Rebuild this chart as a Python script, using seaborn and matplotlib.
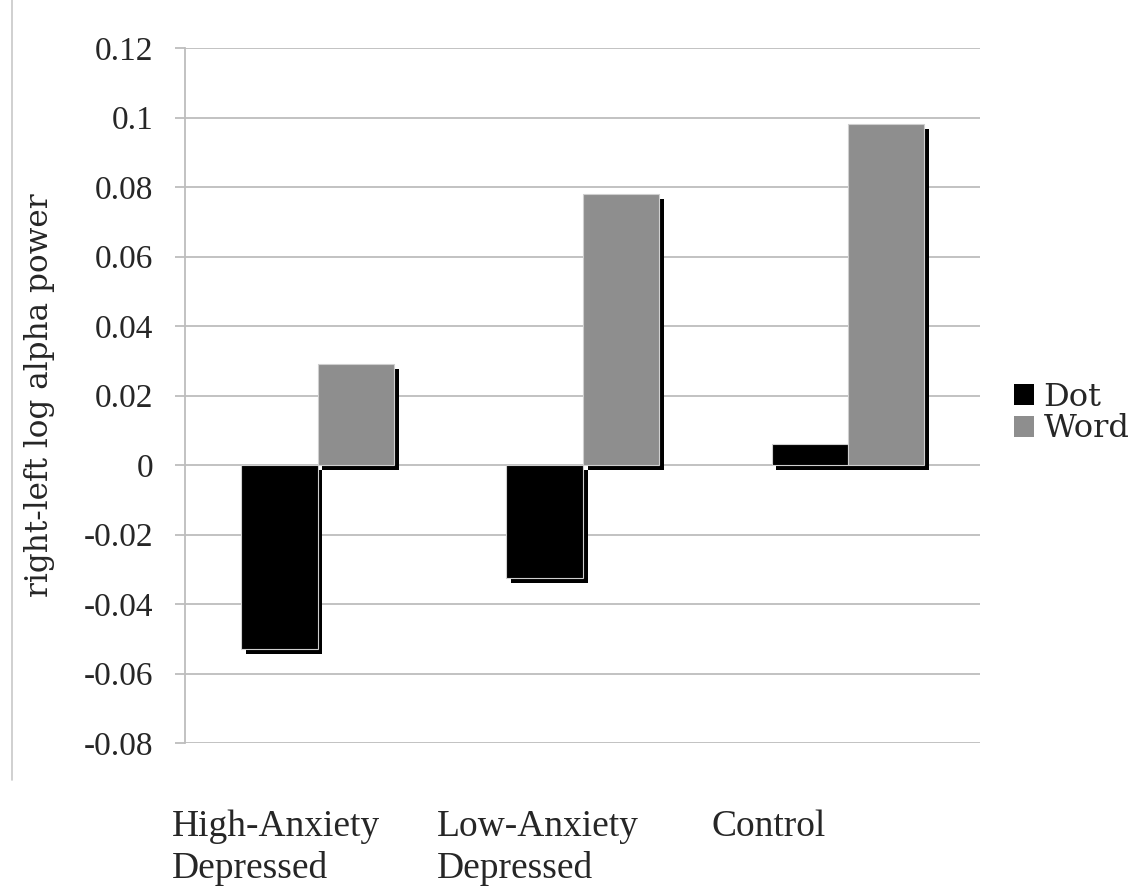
import matplotlib
matplotlib.use("Agg")
import matplotlib.pyplot as plt
import matplotlib.patheffects as pe
import matplotlib.transforms as mtransforms
from matplotlib.lines import Line2D
from matplotlib.patches import Patch
import seaborn as sns
import pandas as pd

categories = ["High-Anxiety\nDepressed", "Low-Anxiety\nDepressed", "Control"]
series = ["Dot", "Word"]
dot_values = [-0.053, -0.0325, 0.006]
word_values = [0.029, 0.078, 0.098]
y_ticks = [-0.08, -0.06, -0.04, -0.02, 0, 0.02, 0.04, 0.06, 0.08, 0.1, 0.12]
y_tick_labels = ["-0.08", "-0.06", "-0.04", "-0.02", "0", "0.02", "0.04", "0.06", "0.08", "0.1", "0.12"]

df = pd.DataFrame({
    "group": categories * 2,
    "series": ["Dot"] * 3 + ["Word"] * 3,
    "value": dot_values + word_values,
})

sns.set_theme(style="white")
plt.rcParams["font.family"] = ["Liberation Serif", "DejaVu Serif"]

fig = plt.figure(figsize=(11.38, 8.94), dpi=100)
ax = fig.add_axes([0.1626, 0.1689, 0.8984 - 0.1626 - 0.037, 0.9463 - 0.1689])

palette = {"Dot": "#000000", "Word": "#8e8e8e"}
sns.barplot(data=df, x="group", y="value", hue="series", order=categories,
            hue_order=series, palette=palette, width=0.575, ax=ax,
            edgecolor="#cfcfcf", linewidth=0.8, legend=False, errorbar=None,
            saturation=1, zorder=3)

for p in ax.patches:
    p.set_path_effects([pe.SimplePatchShadow(offset=(3.5, -3.5), shadow_rgbFace="black", alpha=1.0),
                        pe.Normal()])

ax.set_ylim(-0.08, 0.12)
ax.set_xlim(-0.5, 2.5)
ax.set_yticks(y_ticks)
ax.set_yticklabels(y_tick_labels, fontsize=24)
ax.yaxis.grid(True, color="#bdbdbd", linewidth=1.3, zorder=0)
ax.set_axisbelow(True)
ax.tick_params(axis="y", length=7, width=1.3, color="#bdbdbd", pad=16, left=True)
for s in ["top", "right", "bottom"]:
    ax.spines[s].set_visible(False)
ax.spines["left"].set_color("#bdbdbd")
ax.spines["left"].set_linewidth(1.3)

ax.set_xticks(range(len(categories)))
ax.set_xticklabels(categories, fontsize=27, ha="left", linespacing=1.24)
ax.tick_params(axis="x", length=0, pad=48)
label_shifts = [-1.46, -1.46, -1.36]
for lbl, dx in zip(ax.get_xticklabels(), label_shifts):
    lbl.set_transform(lbl.get_transform() + mtransforms.ScaledTranslation(dx, 0, fig.dpi_scale_trans))

ax.set_xlabel("")
ax.set_ylabel("right-left log alpha power", fontsize=22.4, family=["DejaVu Serif"])
ax.yaxis.set_label_coords(-0.163, 0.5)

handles = [Patch(facecolor=palette[s], edgecolor="none") for s in series]
fig.legend(handles, series, loc="center left", bbox_to_anchor=(0.891, 0.538),
           frameon=False, handlelength=0.63, handleheight=0.63,
           handletextpad=0.3, labelspacing=0.02, borderaxespad=0, borderpad=0,
           prop={"family": "DejaVu Serif", "size": 23})

fig.add_artist(Line2D([0.0105, 0.0105], [1 - 780 / 894, 1.0], transform=fig.transFigure,
                      color="#c8c8c8", linewidth=1.2))

fig.savefig("out.png", dpi=100)
